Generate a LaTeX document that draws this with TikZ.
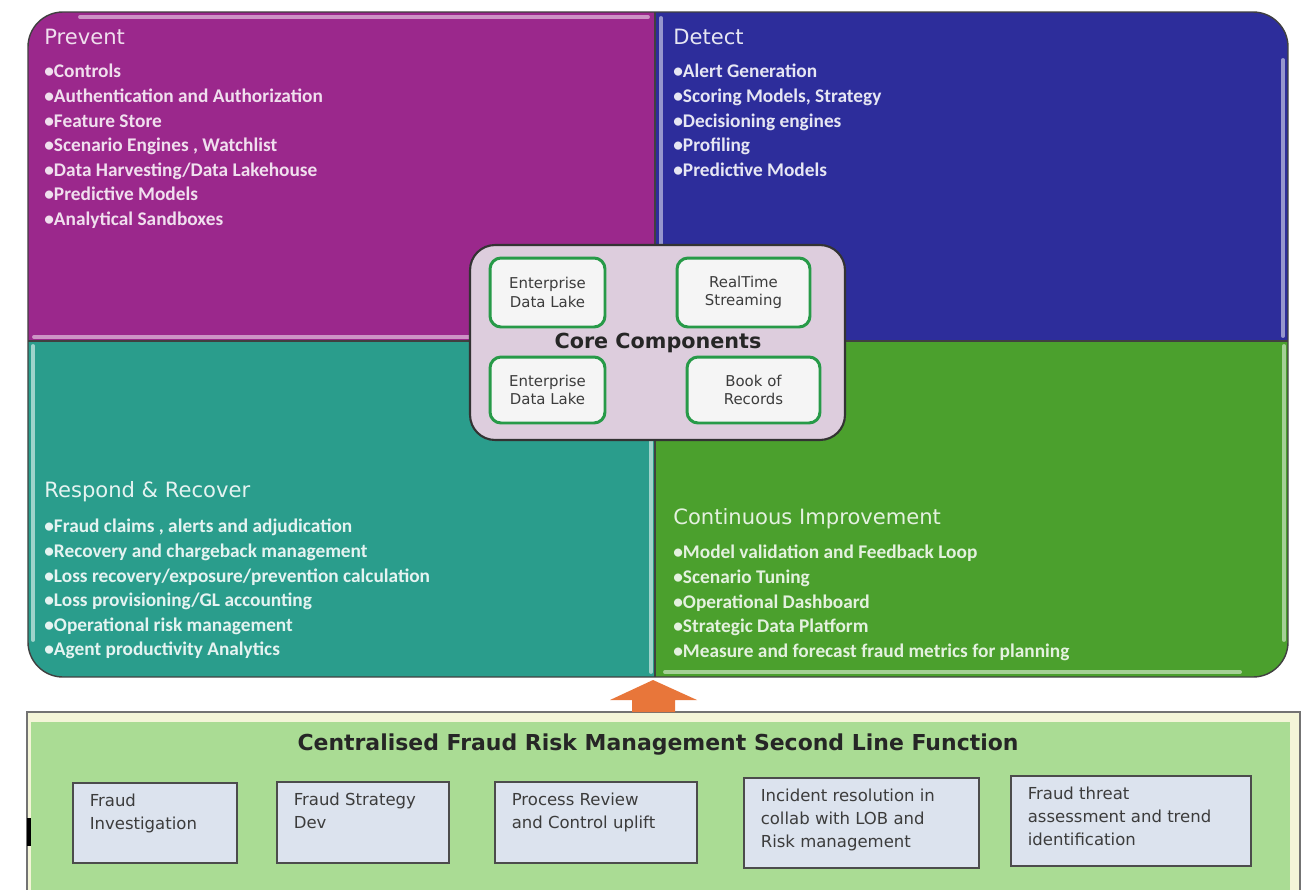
\documentclass[tikz,border=0pt]{standalone}
\usepackage{fontspec}
\setmainfont{DejaVu Sans}
\newfontfamily\listfont{Carlito}
\usetikzlibrary{positioning}

\definecolor{prevcol}{HTML}{9B288C}
\definecolor{detcol}{HTML}{2D2D9B}
\definecolor{respcol}{HTML}{2A9D8C}
\definecolor{contcol}{HTML}{4BA02D}
\definecolor{corecol}{HTML}{DDCDDD}
\definecolor{coregreen}{HTML}{279A48}
\definecolor{panelgreen}{HTML}{AADC94}
\definecolor{panelyel}{HTML}{F4F5D8}
\definecolor{boxblue}{HTML}{DCE3EE}
\definecolor{arrowor}{HTML}{E8763A}
\definecolor{txtgray}{HTML}{3C3C3C}

% text of the second line boxes, top aligned
\newcommand{\fnbox}[3]{\parbox[t][#2][t]{#1}{\raggedright #3}}

\begin{document}
\begin{tikzpicture}[x=0.02cm,y=-0.02cm,
  quadhead/.style={anchor=west, inner sep=0pt, font=\fontsize{12}{14}\selectfont},
  quadlist/.style={anchor=north west, inner sep=0pt, align=left,
    font=\listfont\fontsize{11}{14}\bfseries\selectfont},
  shine/.style={line width=2.2pt, line cap=round},
  corebox/.style={draw=coregreen, fill=white!96!black, line width=1.7pt,
    rounded corners=0.22cm, align=center, text=txtgray,
    font=\fontsize{8.5}{10.5}\selectfont},
  funcbox/.style={draw=black!70, fill=boxblue, line width=0.9pt, anchor=north west,
    inner xsep=0.34cm, inner ysep=0.22cm, text=txtgray, font=\fontsize{9.4}{13}\selectfont}]

\fill[white] (0,0) rectangle (1310,889);
\useasboundingbox (0,0) rectangle (1310,889);

%the four quarters
\begin{scope}
\clip[rounded corners=0.7cm] (28,12) rectangle (1288,677);
\fill[prevcol] (28,12) rectangle (655,341);
\fill[detcol] (655,12) rectangle (1288,341);
\fill[respcol] (28,341) rectangle (655,677);
\fill[contcol] (655,341) rectangle (1288,677);
%light edges
\draw[shine, prevcol!50!white] (80,17) -- (648,17);
\draw[shine, prevcol!50!white] (34,337) -- (648,337);
\draw[shine, detcol!50!white] (661,18) -- (661,336);
\draw[shine, detcol!50!white] (1283,60) -- (1283,336);
\draw[shine, respcol!45!white] (33,346) -- (33,640);
\draw[shine, respcol!45!white] (651,346) -- (651,672);
\draw[shine, contcol!50!white] (665,672) -- (1240,672);
\draw[shine, contcol!50!white] (1284,346) -- (1284,640);
\end{scope}
\draw[black!75, line width=0.8pt, rounded corners=0.7cm] (28,12) rectangle (1288,677);
\draw[black!75, line width=0.8pt] (655,12) -- (655,677) (28,341) -- (1288,341);

%Prevent
\node[quadhead, text=white!85!prevcol] (prevhead) at (44,37) {Prevent};
\node[quadlist, text=white!85!prevcol] (prevlist) at (44,64) {%
  •Controls\\
  •Authentication and Authorization\\
  •Feature Store\\
  •Scenario Engines , Watchlist\\
  •Data Harvesting/Data Lakehouse\\
  •Predictive Models\\
  •Analytical Sandboxes};

%Detect
\node[quadhead, text=white!88!detcol] (dethead) at (673,37) {Detect};
\node[quadlist, text=white!88!detcol] (detlist) at (673,64) {%
  •Alert Generation\\
  •Scoring Models, Strategy\\
  •Decisioning engines\\
  •Profiling\\
  •Predictive Models};

%Respond
\node[quadhead, text=white!88!respcol] (resphead) at (44,492) {Respond \& Recover};
\node[quadlist, text=white!88!respcol] (resplist) at (44,519) {%
  •Fraud claims , alerts and adjudication\\
  •Recovery and chargeback management\\
  •Loss recovery/exposure/prevention calculation\\
  •Loss provisioning/GL accounting\\
  •Operational risk management\\
  •Agent productivity Analytics};

%Continuous
\node[quadhead, text=white!85!contcol] (conthead) at (673,519) {Continuous Improvement};
\node[quadlist, text=white!85!contcol] (contlist) at (673,545) {%
  •Model validation and Feedback Loop\\
  •Scenario Tuning\\
  •Operational Dashboard\\
  •Strategic Data Platform\\
  •Measure and forecast fraud metrics for planning};

%core components
\node[draw=black!80, fill=corecol, line width=1.2pt, rounded corners=0.5cm,
  minimum width=7.5cm, minimum height=3.9cm] (core) at (657.5,342.5) {};
\node[corebox, minimum width=2.3cm, minimum height=1.38cm] (edl1) at (547.5,292.5) {Enterprise\\Data Lake};
\node[corebox, minimum width=2.66cm, minimum height=1.38cm] (rts) at (743.5,292.5) {RealTime\\Streaming};
\node[corebox, minimum width=2.3cm, minimum height=1.32cm] (edl2) at (547.5,390) {Enterprise\\Data Lake};
\node[corebox, minimum width=2.66cm, minimum height=1.32cm] (bor) at (753.5,390) {Book of\\Records};
\node[font=\bfseries\fontsize{11.8}{13}\selectfont, text=black!85] (coretitle) at (658,343) {Core Components};

%second line panel
\draw[black!55, fill=panelyel, line width=0.8pt] (27,712) rectangle (1300,895);
\fill[panelgreen] (31,722) rectangle (1290,895);
\draw[black, line width=2pt] (29,818) -- (29,846);
\node[font=\bfseries\fontsize{12.5}{14}\selectfont, text=black!85] (slf) at (658,745)
  {Centralised Fraud Risk Management Second Line Function};

\node[funcbox] (finv) at (72,782) {\fnbox{2.6cm}{1.16cm}{Fraud\\Investigation}};
\node[funcbox] (fsd) at (276,781) {\fnbox{2.76cm}{1.18cm}{Fraud Strategy\\Dev}};
\node[funcbox] (prc) at (494,781) {\fnbox{3.36cm}{1.18cm}{Process Review\\and Control uplift}};
\node[funcbox] (inc) at (743,777) {\fnbox{4.02cm}{1.36cm}{Incident resolution in\\collab with LOB and\\Risk management}};
\node[funcbox] (fta) at (1010,775) {\fnbox{4.12cm}{1.36cm}{Fraud threat\\assessment and trend\\identification}};

%arrow up
\coordinate (tip) at (653,680);
\fill[arrowor] (tip) -- ++(44,20) -- ++(-22,0) -- ++(0,12) -- ++(-43,0)
  -- ++(0,-12) -- ++(-22,0) -- cycle;

\end{tikzpicture}
\end{document}
